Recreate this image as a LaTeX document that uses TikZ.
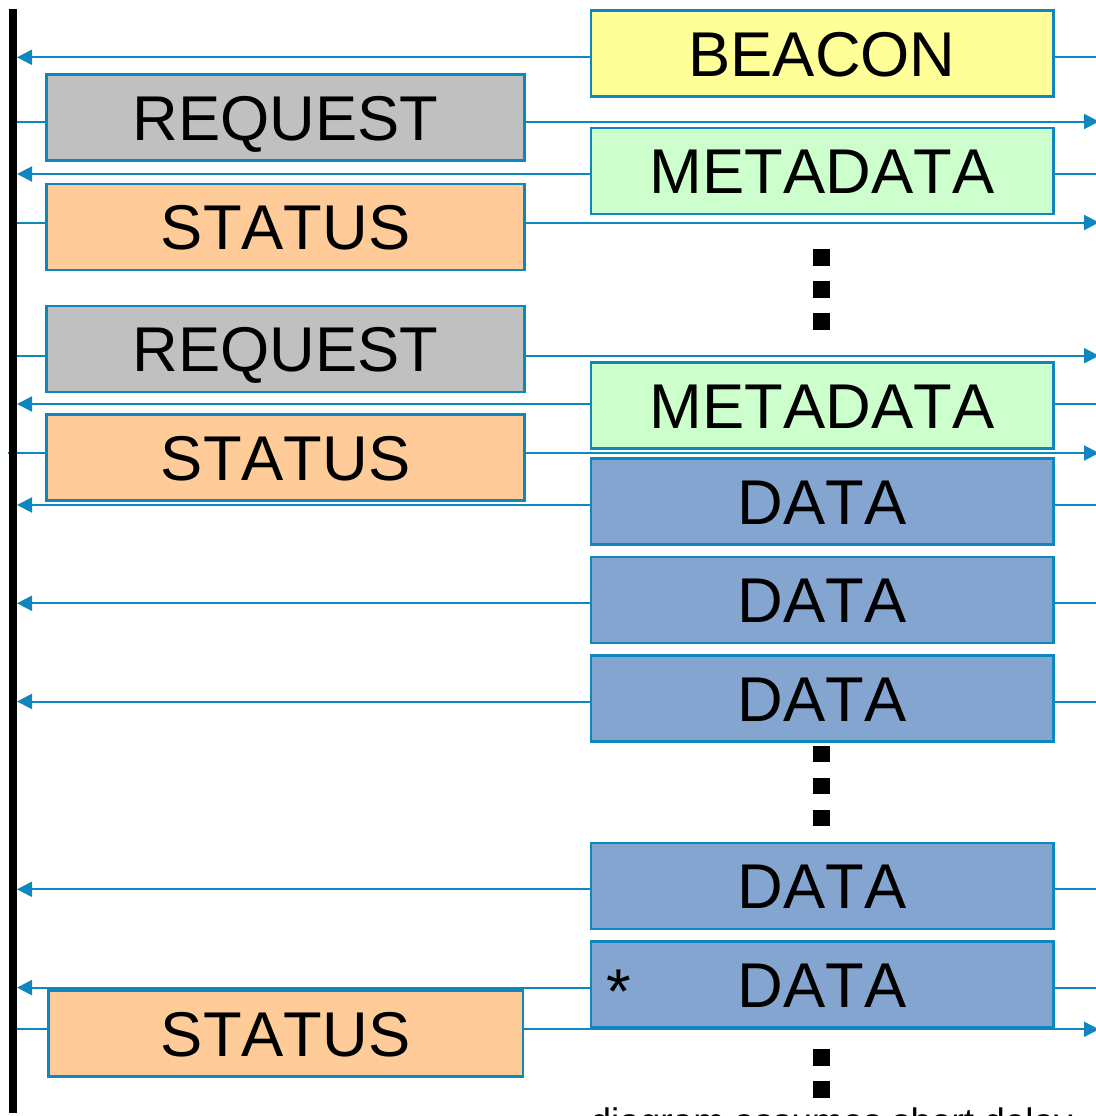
\documentclass[tikz,border=0pt]{standalone}
\usepackage{fontspec}
\setmainfont[Kerning=Off]{Liberation Sans}
\usetikzlibrary{arrows.meta, positioning}

\definecolor{linkblue}{RGB}{16,134,190}
\definecolor{beaconyellow}{RGB}{255,255,153}
\definecolor{requestgray}{RGB}{192,192,192}
\definecolor{metagreen}{RGB}{204,255,204}
\definecolor{statusorange}{RGB}{255,204,153}
\definecolor{datablue}{RGB}{132,165,208}

\begin{document}
\begin{tikzpicture}[
x=0.1mm, y=-0.1mm,
frame/.style={rectangle, draw=linkblue, line width=0.25mm, minimum height=8.6mm, inner sep=0pt, text height=4.55mm, text depth=0mm, font=\fontsize{18}{20}\selectfont},
uplink/.style={frame, minimum width=47.8mm},
downlink/.style={frame, minimum width=46.25mm},
ellipsisdot/.style={rectangle, fill=black, minimum size=1.67mm, inner sep=0pt},
msg/.style={draw=linkblue, line width=0.2mm},
arrow/.style={msg, -{Triangle[length=1.5mm, width=1.5mm]}}
]
\useasboundingbox (0,0) rectangle (1095,1116);

\coordinate (top) at (13,9);
\coordinate (bottom) at (13,1113);
\coordinate (axis) at (17,0);
\coordinate (edge) at (1099,0);

\node[downlink, fill=beaconyellow] (beacon) at (822,53.5) {BEACON};
\node[uplink, fill=requestgray] (request1) at (285.7,117.7) {REQUEST};
\node[downlink, fill=metagreen] (metadata1) at (822,170.8) {METADATA};
\node[uplink, fill=statusorange] (status1) at (285.7,227) {STATUS};
\node[uplink, fill=requestgray] (request2) at (285.7,349.2) {REQUEST};
\node[downlink, fill=metagreen] (metadata2) at (822,405.3) {METADATA};
\node[uplink, fill=statusorange] (status2) at (285.7,457.5) {STATUS};
\node[downlink, fill=datablue] (data1) at (822,501.3) {DATA};
\node[downlink, fill=datablue, below=1mm of data1] (data2) {DATA};
\node[downlink, fill=datablue, below=1mm of data2] (data3) {DATA};
\node[downlink, fill=datablue] (data4) at (822,885.8) {DATA};
\node[downlink, fill=datablue, below=1mm of data4] (data5) {DATA};
\node[uplink, fill=statusorange, minimum width=47.45mm] (status3) at (285.7,1033.5) {STATUS};

\node[anchor=base, inner sep=0pt, font=\fontsize{18}{20}\selectfont] (star) at (619,1013) {*};
\node[anchor=base west, inner sep=0pt, font=\fontsize{10.5}{12}\selectfont] (note) at (590,1134) {diagram assumes short delay};

% pauses in the exchange
\node[ellipsisdot] at (821.5,257.5) {};
\node[ellipsisdot] at (821.5,289.5) {};
\node[ellipsisdot] at (821.5,321.5) {};
\node[ellipsisdot] at (821.5,754) {};
\node[ellipsisdot] at (821.5,786) {};
\node[ellipsisdot] at (821.5,818) {};
\node[ellipsisdot] at (821.5,1057.5) {};
\node[ellipsisdot] at (821.5,1089.5) {};

% frames coming in from the right
\draw[arrow] ([yshift=-0.38mm]beacon.west) -- ([yshift=-0.38mm]beacon.west -| axis);
\draw[msg] ([yshift=-0.38mm]beacon.east) -- ([yshift=-0.38mm]beacon.east -| edge);
\draw[arrow] ([yshift=-0.32mm]metadata1.west) -- ([yshift=-0.32mm]metadata1.west -| axis);
\draw[msg] ([yshift=-0.32mm]metadata1.east) -- ([yshift=-0.32mm]metadata1.east -| edge);
\draw[arrow] ([yshift=0.13mm]metadata2.west) -- ([yshift=0.13mm]metadata2.west -| axis);
\draw[msg] ([yshift=0.13mm]metadata2.east) -- ([yshift=0.13mm]metadata2.east -| edge);
\draw[arrow] ([yshift=-0.37mm]data1.west) -- ([yshift=-0.37mm]data1.west -| axis);
\draw[msg] ([yshift=-0.37mm]data1.east) -- ([yshift=-0.37mm]data1.east -| edge);
\draw[arrow] ([yshift=-0.35mm]data2.west) -- ([yshift=-0.35mm]data2.west -| axis);
\draw[msg] ([yshift=-0.35mm]data2.east) -- ([yshift=-0.35mm]data2.east -| edge);
\draw[arrow] ([yshift=-0.32mm]data3.west) -- ([yshift=-0.32mm]data3.west -| axis);
\draw[msg] ([yshift=-0.32mm]data3.east) -- ([yshift=-0.32mm]data3.east -| edge);
\draw[arrow] ([yshift=-0.35mm]data4.west) -- ([yshift=-0.35mm]data4.west -| axis);
\draw[msg] ([yshift=-0.35mm]data4.east) -- ([yshift=-0.35mm]data4.east -| edge);
\draw[arrow] ([yshift=-0.33mm]data5.west) -- ([yshift=-0.33mm]data5.west -| axis);
\draw[msg] ([yshift=-0.33mm]data5.east) -- ([yshift=-0.33mm]data5.east -| edge);

% frames going out to the right
\draw[msg] ([yshift=-0.38mm]request1.west -| axis) -- ([yshift=-0.38mm]request1.west);
\draw[arrow] ([yshift=-0.38mm]request1.east) -- ([yshift=-0.38mm]request1.east -| edge);
\draw[msg] ([yshift=0.45mm]status1.west -| axis) -- ([yshift=0.45mm]status1.west);
\draw[arrow] ([yshift=0.45mm]status1.east) -- ([yshift=0.45mm]status1.east -| edge);
\draw[msg] ([yshift=-0.65mm]request2.west -| axis) -- ([yshift=-0.65mm]request2.west);
\draw[arrow] ([yshift=-0.65mm]request2.east) -- ([yshift=-0.65mm]request2.east -| edge);
\draw[msg] ([xshift=-0.9mm, yshift=0.45mm]status2.west -| axis) -- ([yshift=0.45mm]status2.west);
\draw[arrow] ([yshift=0.45mm]status2.east) -- ([yshift=0.45mm]status2.east -| edge);
\draw[msg] ([yshift=0.42mm]status3.west -| axis) -- ([yshift=0.42mm]status3.west);
\draw[arrow] ([yshift=0.42mm]status3.east) -- ([yshift=0.42mm]status3.east -| edge);

% receiver time line
\draw[line width=0.8mm] (top) -- (bottom);

\end{tikzpicture}
\end{document}
